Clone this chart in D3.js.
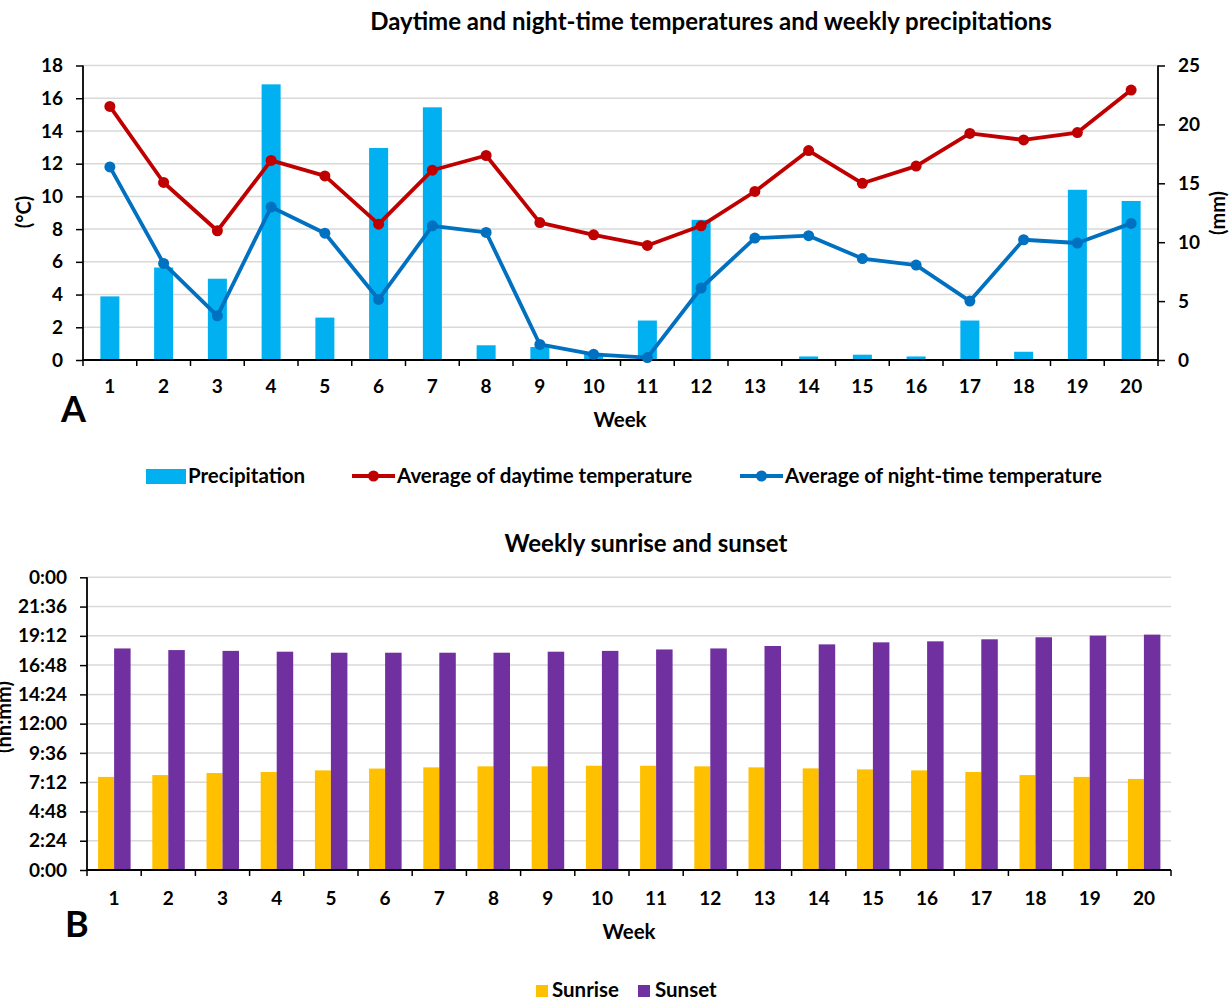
<!DOCTYPE html>
<html><head><meta charset="utf-8">
<script src="https://cdn.jsdelivr.net/npm/d3@7"></script>
<style>
html,body{margin:0;padding:0;background:#fff;}
text{font-family:Lato,"Open Sans",sans-serif;font-weight:bold;fill:#000;}
</style></head>
<body>
<svg id="c" width="1229" height="998"></svg>
<script>
const weeks = d3.range(1, 21);
const precipitation = [5.4,7.85,6.9,23.4,3.6,18.0,21.45,1.25,1.1,0.6,3.35,11.9,0,0.3,0.45,0.3,3.35,0.7,14.45,13.5];
const dayTemp = [15.5,10.85,7.9,12.2,11.25,8.3,11.6,12.5,8.4,7.65,7.0,8.2,10.3,12.8,10.8,11.85,13.85,13.45,13.9,16.5];
const nightTemp = [11.8,5.9,2.7,9.35,7.75,3.7,8.2,7.8,0.95,0.35,0.15,4.4,7.45,7.6,6.2,5.8,3.6,7.35,7.15,8.35];
const sunrise = ["7:38","7:47","7:57","8:02","8:10","8:19","8:25","8:30","8:30","8:33","8:33","8:30","8:25","8:20","8:15","8:10","8:02","7:47","7:38","7:28"];
const sunset = ["18:10","18:02","17:58","17:54","17:49","17:49","17:49","17:49","17:54","17:58","18:05","18:10","18:22","18:30","18:40","18:45","18:55","19:05","19:13","19:18"];
const tempTicks = d3.range(0, 19, 2);
const precTicks = d3.range(0, 26, 5);
const timeTicks = ["0:00","2:24","4:48","7:12","9:36","12:00","14:24","16:48","19:12","21:36","0:00"];

const toH = s => { const [h,m] = s.split(":").map(Number); return h + m/60; };

const svg = d3.select("#c");
const C = {prec:"#00b0f0", day:"#c00000", night:"#0070c0", rise:"#ffc000", set:"#7030a0", grid:"#d9d9d9"};
const TICK_FS = "19px", LEG_FS = "20.5px", TITLE_FS = "24px";

// ---------- Chart A ----------
const xA = d3.scaleBand().domain(weeks).range([83, 1158]);
const yT = d3.scaleLinear().domain([0, 18]).range([360, 65.5]);
const yP = d3.scaleLinear().domain([0, 25]).range([360, 65.5]);

const gA = svg.append("g");
gA.append("text").attr("x", 711).attr("y", 30).attr("text-anchor","middle").style("font-size",TITLE_FS)
  .text("Daytime and night-time temperatures and weekly precipitations");

gA.append("g").selectAll("line").data(tempTicks.slice(1)).join("line")
  .attr("x1", 83).attr("x2", 1158).attr("y1", d=>yT(d)).attr("y2", d=>yT(d))
  .attr("stroke", C.grid).attr("stroke-width", 1.5);

gA.append("g").selectAll("rect").data(weeks).join("rect")
  .attr("x", d => xA(d) + xA.bandwidth()/2 - 9.5).attr("width", 19)
  .attr("y", (d,i) => yP(precipitation[i])).attr("height", (d,i) => yP(0) - yP(precipitation[i]))
  .attr("fill", C.prec);

const axL = gA.append("g").attr("transform","translate(83,0)")
  .call(d3.axisLeft(yT).tickValues(tempTicks).tickSize(7).tickPadding(13));
const axR = gA.append("g").attr("transform","translate(1158,0)")
  .call(d3.axisRight(yP).tickValues(precTicks).tickSize(7).tickPadding(13));
const axB = gA.append("g").attr("transform","translate(0,360)")
  .call(d3.axisBottom(xA).tickSize(0).tickPadding(20));
axB.append("g").selectAll("line").data(d3.range(0,21)).join("line")
  .attr("x1", i => 83 + i*xA.step()).attr("x2", i => 83 + i*xA.step())
  .attr("y1", 0).attr("y2", 6).attr("stroke","#000").attr("stroke-width",1.5);
[axL, axR, axB].forEach(a => {
  a.selectAll("path.domain").attr("stroke","#000").attr("stroke-width",1.8);
  a.selectAll(".tick line").attr("stroke","#000").attr("stroke-width",1.5);
  a.selectAll("text").style("font-size",TICK_FS).style("font-family","Lato").style("font-weight","bold").attr("fill","#000");
});
axL.select("path.domain").attr("d","M0,360V65.5");
axR.select("path.domain").attr("d","M0,360V65.5");
axB.select("path.domain").attr("d","M83,0H1158");

const line = (arr, y) => d3.line().x((d,i) => xA(weeks[i]) + xA.bandwidth()/2).y(d => y(d))(arr);
[[dayTemp, C.day],[nightTemp, C.night]].forEach(([arr, col]) => {
  gA.append("path").attr("d", line(arr, yT)).attr("fill","none").attr("stroke", col)
    .attr("stroke-width", 3.8).attr("stroke-linejoin","round");
  gA.append("g").selectAll("circle").data(arr).join("circle")
    .attr("cx", (d,i) => xA(weeks[i]) + xA.bandwidth()/2).attr("cy", d => yT(d))
    .attr("r", 5.5).attr("fill", col);
});

gA.append("text").attr("transform","translate(31,212) rotate(-90)").attr("text-anchor","middle").style("font-size","20px").text("(°C)");
gA.append("text").attr("transform","translate(1225,213) rotate(-90)").attr("text-anchor","middle").style("font-size","20px").text("(mm)");
gA.append("text").attr("x", 620).attr("y", 427).attr("text-anchor","middle").style("font-size",LEG_FS).text("Week");
gA.append("text").attr("x", 61).attr("y", 422).style("font-size","36px").text("A");

// Legend A
const lgA = gA.append("g");
lgA.append("rect").attr("x",146).attr("y",469).attr("width",40).attr("height",15).attr("fill",C.prec);
lgA.append("text").attr("x",188).attr("y",483).style("font-size",LEG_FS).text("Precipitation");
[[352, C.day, "Average of daytime temperature"],[740, C.night, "Average of night-time temperature"]].forEach(([x,col,t]) => {
  lgA.append("line").attr("x1",x).attr("x2",x+43).attr("y1",476).attr("y2",476).attr("stroke",col).attr("stroke-width",3.8);
  lgA.append("circle").attr("cx",x+21.5).attr("cy",476).attr("r",5.5).attr("fill",col);
  lgA.append("text").attr("x",x+45).attr("y",483).style("font-size",LEG_FS).text(t);
});

// ---------- Chart B ----------
const xB = d3.scaleBand().domain(weeks).range([87, 1171]);
const yH = d3.scaleLinear().domain([0, 24]).range([870, 577.3]);
const tickH = d3.range(0, 24.01, 2.4);
const gB = svg.append("g");
gB.append("text").attr("x", 646).attr("y", 552).attr("text-anchor","middle").style("font-size",TITLE_FS).text("Weekly sunrise and sunset");

gB.append("g").selectAll("line").data(tickH.slice(1)).join("line")
  .attr("x1", 87).attr("x2", 1171).attr("y1", d=>yH(d)).attr("y2", d=>yH(d))
  .attr("stroke", C.grid).attr("stroke-width", 1.5);

gB.append("g").selectAll("rect").data(weeks).join("rect")
  .attr("x", d => xB(d) + xB.bandwidth()/2 - 16).attr("width", 16)
  .attr("y", (d,i) => yH(toH(sunrise[i]))).attr("height", (d,i) => yH(0) - yH(toH(sunrise[i])))
  .attr("fill", C.rise);
gB.append("g").selectAll("rect").data(weeks).join("rect")
  .attr("x", d => xB(d) + xB.bandwidth()/2).attr("width", 16.5)
  .attr("y", (d,i) => yH(toH(sunset[i]))).attr("height", (d,i) => yH(0) - yH(toH(sunset[i])))
  .attr("fill", C.set);

const bL = gB.append("g").attr("transform","translate(87,0)")
  .call(d3.axisLeft(yH).tickValues(tickH).tickFormat((d,i) => timeTicks[i]).tickSize(7).tickPadding(13));
const bB = gB.append("g").attr("transform","translate(0,870)")
  .call(d3.axisBottom(xB).tickSize(0).tickPadding(22));
bB.append("g").selectAll("line").data(d3.range(0,21)).join("line")
  .attr("x1", i => 87 + i*xB.step()).attr("x2", i => 87 + i*xB.step())
  .attr("y1", 0).attr("y2", 6).attr("stroke","#000").attr("stroke-width",1.5);
[bL, bB].forEach(a => {
  a.selectAll("path.domain").attr("stroke","#000").attr("stroke-width",1.8);
  a.selectAll(".tick line").attr("stroke","#000").attr("stroke-width",1.5);
  a.selectAll("text").style("font-size",TICK_FS).style("font-family","Lato").style("font-weight","bold").attr("fill","#000");
});
bL.select("path.domain").attr("d","M0,870V577.3");
bB.select("path.domain").attr("d","M87,0H1171");

gB.append("text").attr("transform","translate(11,717) rotate(-90)").attr("text-anchor","middle").style("font-size","20px").text("(hh:mm)");
gB.append("text").attr("x", 629).attr("y", 939).attr("text-anchor","middle").style("font-size",LEG_FS).text("Week");
gB.append("text").attr("x", 65).attr("y", 937).style("font-size","36px").text("B");

const lgB = gB.append("g");
lgB.append("rect").attr("x",536).attr("y",985).attr("width",12).attr("height",12).attr("fill",C.rise);
lgB.append("text").attr("x",552).attr("y",997).style("font-size",LEG_FS).text("Sunrise");
lgB.append("rect").attr("x",638).attr("y",985).attr("width",12).attr("height",12).attr("fill",C.set);
lgB.append("text").attr("x",655).attr("y",997).style("font-size",LEG_FS).text("Sunset");
</script>
</body></html>
